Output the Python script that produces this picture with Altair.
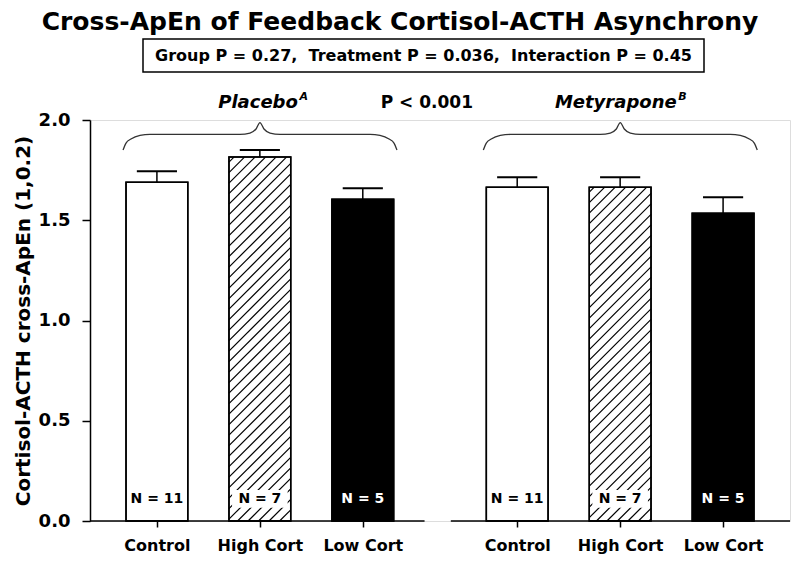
import altair as alt
import numpy as np
import pandas as pd

# ---------------- data ----------------
conditions = ["Control", "High Cort", "Low Cort"]
treatments = ["Placebo", "Metyrapone"]
placebo_mean = [1.69, 1.815, 1.605]
placebo_sem = [0.055, 0.035, 0.055]
metyrapone_mean = [1.665, 1.665, 1.535]
metyrapone_sem = [0.05, 0.05, 0.08]
n_subjects = [11, 7, 5]
slot_positions = [1.0, 2.0, 3.0, 4.5, 5.5, 6.5]
y_ticks = [0.0, 0.5, 1.0, 1.5, 2.0]

title_text = "Cross-ApEn of Feedback Cortisol-ACTH Asynchrony"
stats_text = "Group P = 0.27,\u00a0\u00a0Treatment P = 0.036,\u00a0\u00a0Interaction P = 0.45"
y_title = "Cortisol-ACTH cross-ApEn (1,0.2)"

# panel baselines (x extents, in slot units)
panel_start = [0.35, 3.855]
panel_end = [3.60, 7.15]

# curly braces above each treatment group (x in slot units, y in ApEn units)
brace_left_x = [0.671, 0.700, 0.748, 0.836, 0.933, 1.807, 1.904, 1.963, 2.001,
                2.040, 2.099, 2.196, 3.070, 3.167, 3.255, 3.303, 3.332]
brace_right_x = [4.171, 4.200, 4.248, 4.336, 4.433, 5.307, 5.404, 5.463, 5.501,
                 5.540, 5.599, 5.696, 6.570, 6.667, 6.755, 6.803, 6.832]
brace_y = [1.850, 1.885, 1.905, 1.923, 1.928, 1.928, 1.935, 1.955, 1.987,
           1.955, 1.935, 1.928, 1.928, 1.923, 1.905, 1.885, 1.850]

# annotation texts
ann_text = ["Placebo", "Metyrapone"]
ann_sup = ["A", "B"]
ann_x = [2.369, 6.049]
p_text = "P < 0.001"
p_x = 3.622

# ---------------- tables ----------------
bars = pd.DataFrame({
    "treatment": [treatments[0]] * 3 + [treatments[1]] * 3,
    "condition": conditions * 2,
    "pos": slot_positions,
    "mean": placebo_mean + metyrapone_mean,
    "sem": placebo_sem + metyrapone_sem,
    "n": n_subjects * 2,
})
bars["label"] = "N = " + bars["n"].astype(str)

W, H = 700, 401
XDOM = [0.35, 7.15]
SX = W / (XDOM[1] - XDOM[0])
SY = H / 2.0
HALF = 0.3

# hatch segments for the "High Cort" bars (pattern drawn inside each bar)
segs = []
for _, r in bars[bars["condition"] == "High Cort"].iterrows():
    left = r["pos"] - HALF
    wpx = 2 * HALF * SX
    hpx = r["mean"] * SY
    for c in np.arange(-hpx + 5, wpx, 10.5):
        xs, xe = max(0.0, c), min(wpx, c + hpx)
        if xe <= xs:
            continue
        segs.append({"x": left + xs / SX, "x2": left + xe / SX,
                     "y": (xs - c) / SY, "y2": (xe - c) / SY})
hatch = pd.DataFrame(segs)

baselines = pd.DataFrame({"x": panel_start, "x2": panel_end})
braces = pd.DataFrame({
    "x": brace_left_x + brace_right_x,
    "y": brace_y + brace_y,
    "brace": ["left"] * len(brace_left_x) + ["right"] * len(brace_right_x),
})
ann = pd.DataFrame({"text": ann_text, "sup": ann_sup, "x": ann_x})
ptab = pd.DataFrame({"text": [p_text], "x": [p_x]})

FONT = "DejaVu Sans"
xscale = alt.Scale(domain=XDOM, nice=False, zero=False)
yscale = alt.Scale(domain=[0, 2.0], nice=False, zero=True)

label_expr = " : ".join(
    f"(datum.value == {slot_positions[i]} || datum.value == {slot_positions[i + 3]}) ? '{conditions[i]}'"
    for i in range(3)
) + " : ''"

xaxis = alt.Axis(values=slot_positions, labelExpr=label_expr, domain=False,
                 tickSize=6, tickWidth=1.5, tickColor="black", grid=False,
                 labelFont=FONT, labelFontSize=16, labelFontWeight="bold",
                 labelColor="black", labelPadding=10, labelAngle=0,
                 labelOverlap=False, labelFlush=False, title=None)
yaxis = alt.Axis(values=y_ticks, format=".1f", tickSize=8, tickWidth=1.5,
                 tickColor="black", domainColor="black", domainWidth=1.5,
                 grid=False, labelFont=FONT, labelFontSize=18,
                 labelFontWeight="bold", labelColor="black", labelPadding=12,
                 title=y_title, titleFont=FONT, titleFontSize=20,
                 titleFontWeight="bold", titleColor="black", titlePadding=5)


def X(field):
    return alt.X(field, type="quantitative", scale=xscale, axis=xaxis)


def Y(field):
    return alt.Y(field, type="quantitative", scale=yscale, axis=yaxis)


def Yd(value):
    return alt.Y(datum=value, type="quantitative", scale=yscale, axis=yaxis)


base = alt.Chart(bars).transform_calculate(
    x1=f"datum.pos - {HALF}", x2=f"datum.pos + {HALF}",
    top="datum.mean + datum.sem",
    c1="datum.pos - 0.195", c2="datum.pos + 0.195",
)

fill_scale = alt.Scale(domain=conditions, range=["white", "white", "black"])
text_scale = alt.Scale(domain=conditions, range=["black", "black", "white"])

bar_fill = base.mark_bar(stroke="black", strokeWidth=1.5).encode(
    x=X("x1"), x2="x2:Q", y=Y("mean"), y2=alt.datum(0),
    fill=alt.Fill("condition:N", scale=fill_scale, legend=None),
)

hatch_layer = alt.Chart(hatch).mark_rule(color="black", strokeWidth=1.2).encode(
    x=X("x"), x2="x2:Q", y=Y("y"), y2="y2:Q",
)

label_bg = base.transform_filter(alt.datum.condition == "High Cort").transform_calculate(
    b1="datum.pos - 0.27", b2="datum.pos + 0.27"
).mark_rect(color="white").encode(
    x=X("b1"), x2="b2:Q", y=Yd(0.066), y2=alt.datum(0.154),
)

bar_outline = base.mark_bar(fillOpacity=0, stroke="black", strokeWidth=1.5).encode(
    x=X("x1"), x2="x2:Q", y=Y("mean"), y2=alt.datum(0),
)

n_text = base.mark_text(font=FONT, fontSize=14, fontWeight="bold", baseline="middle").encode(
    x=X("pos"), y=Yd(0.11),
    text="label:N",
    color=alt.Color("condition:N", scale=text_scale, legend=None),
)

err_rule = base.mark_rule(color="black", strokeWidth=1.5).encode(
    x=X("pos"), y=Y("mean"), y2="top:Q",
)
err_cap = base.mark_rule(color="black", strokeWidth=2).encode(
    x=X("c1"), x2="c2:Q", y=Y("top"),
)

base_rules = alt.Chart(baselines).mark_rule(color="black", strokeWidth=1.5).encode(
    x=X("x"), x2="x2:Q", y=Yd(0),
)

brace_layer = alt.Chart(braces).mark_line(color="#333333", strokeWidth=1.3,
                                          interpolate="monotone").encode(
    x=X("x"), y=Y("y"), detail="brace:N",
)

ann_main = alt.Chart(ann).mark_text(font=FONT, fontSize=18, fontWeight="bold",
                                    fontStyle="italic", align="right",
                                    baseline="alphabetic").encode(
    x=X("x"), y=Yd(2.06), text="text:N",
)
ann_sup_layer = alt.Chart(ann).transform_calculate(xs="datum.x + 0.015").mark_text(
    font=FONT, fontSize=11, fontWeight="bold", fontStyle="italic", align="left",
    baseline="alphabetic").encode(
    x=X("xs"), y=Yd(2.1), text="sup:N",
)
p_layer = alt.Chart(ptab).mark_text(font=FONT, fontSize=17, fontWeight="bold",
                                    align="center", baseline="alphabetic").encode(
    x=X("x"), y=Yd(2.06), text="text:N",
)

title_layer = alt.Chart(pd.DataFrame({"t": [title_text]})).mark_text(
    font=FONT, fontSize=25, fontWeight="bold", align="center", baseline="alphabetic",
    color="black").encode(text="t:N", x=alt.value(310), y=alt.value(-90))

box_layer = alt.Chart(pd.DataFrame({"t": [stats_text]})).mark_rect(
    fill="white", stroke="black", strokeWidth=1.5).encode(
    x=alt.value(53), x2=alt.value(614), y=alt.value(-81), y2=alt.value(-48))

stats_layer = alt.Chart(pd.DataFrame({"t": [stats_text]})).mark_text(
    font=FONT, fontSize=16, fontWeight="bold", align="center", baseline="middle",
    color="black").encode(text="t:N", x=alt.value(333.5), y=alt.value(-64))

chart = alt.layer(
    bar_fill, hatch_layer, label_bg, bar_outline, n_text, err_rule, err_cap,
    base_rules, brace_layer, ann_main, ann_sup_layer, p_layer,
    title_layer, box_layer, stats_layer,
).properties(
    width=W, height=H,
    autosize=alt.AutoSizeParams(type="none"),
    padding={"left": 82, "top": 112, "right": 2, "bottom": 40},
).configure_view(stroke=None).configure(font=FONT, background="white")

chart.save("out.html", embed_options={"renderer": "svg", "actions": False})
